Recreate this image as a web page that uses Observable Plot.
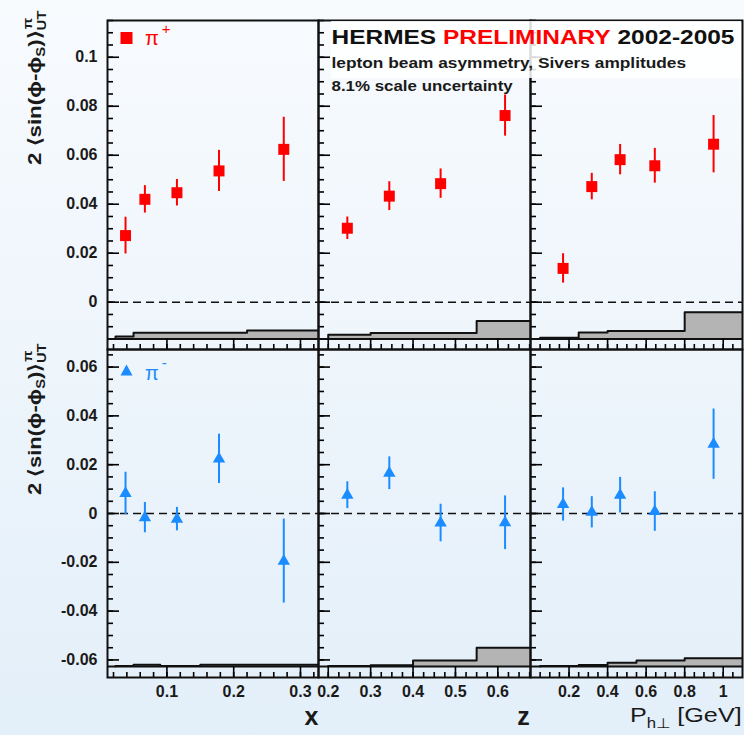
<!DOCTYPE html>
<html><head><meta charset="utf-8">
<script src="https://cdn.jsdelivr.net/npm/d3@7"></script>
<script src="https://cdn.jsdelivr.net/npm/@observablehq/plot@0.6"></script>
<style>
html,body{margin:0;padding:0;}
body{width:744px;height:735px;overflow:hidden;background:linear-gradient(#f8fbfe,#e3eff9);}
#chart{position:relative;width:744px;height:735px;}
#chart svg{position:absolute;}
</style></head><body><div id="chart"></div>
<script>
const FONT = '"Liberation Sans", Arial, Helvetica, sans-serif';

// ---------- DATA ----------
const xCenters  = [0.038, 0.067, 0.115, 0.178, 0.275];
const zCenters  = [0.245, 0.344, 0.465, 0.617];
const phCenters = [0.169, 0.318, 0.465, 0.645, 0.95];

const pipX     = [0.0272, 0.0420, 0.0447, 0.0536, 0.0624];
const pipXErr  = [0.0075, 0.0056, 0.0054, 0.0084, 0.0131];
const pipZ     = [0.0302, 0.0433, 0.0484, 0.0762];
const pipZErr  = [0.0046, 0.0059, 0.0060, 0.0084];
const pipPh    = [0.0138, 0.0472, 0.0582, 0.0557, 0.0645];
const pipPhErr = [0.0060, 0.0054, 0.0062, 0.0071, 0.0117];

const pimX     = [0.0082, -0.0017, -0.0023, 0.0224, -0.0195];
const pimXErr  = [0.0087, 0.0062, 0.0048, 0.0101, 0.0172];
const pimZ     = [0.0075, 0.0165, -0.0039, -0.0038];
const pimZErr  = [0.0055, 0.0067, 0.0077, 0.0110];
const pimPh    = [0.0037, 0.0005, 0.0075, 0.0008, 0.0284];
const pimPhErr = [0.0068, 0.0064, 0.0073, 0.0081, 0.0144];

// systematic-uncertainty bands (bin edges, heights)
const xSysEdgesPip  = [0.023, 0.05, 0.22, 0.4];
const xSysPip       = [0.0010, 0.0025, 0.0035];
const zSysEdgesPip  = [0.2, 0.3, 0.55, 0.7];
const zSysPip       = [0.0017, 0.0024, 0.0073];
const phSysEdgesPip = [0.05, 0.25, 0.4, 0.8, 1.1];
const phSysPip      = [0.0005, 0.0026, 0.0033, 0.0109];

const xSysEdgesPim  = [0.023, 0.05, 0.09, 0.15, 0.4];
const xSysPim       = [0.0002, 0.0007, 0.0002, 0.0007];
const zSysEdgesPim  = [0.2, 0.3, 0.4, 0.55, 0.7];
const zSysPim       = [0.0002, 0.0005, 0.0025, 0.0077];
const phSysEdgesPim = [0.05, 0.25, 0.4, 0.55, 0.8, 1.1];
const phSysPim      = [0.0002, 0.0006, 0.0015, 0.0025, 0.0034];

// axes
const xDomain = [0.011, 0.327], zDomain = [0.177, 0.677], phDomain = [0, 1.1];
const yDomainPip = [-0.0193, 0.115], yDomainPim = [-0.0672, 0.0672];
const sysBasePip = -0.015, sysBasePim = -0.0627;

const xTicks = [0.1, 0.2, 0.3];            const xTickLabels = ["0.1", "0.2", "0.3"];
const zTicks = [0.2, 0.3, 0.4, 0.5, 0.6];  const zTickLabels = ["0.2", "0.3", "0.4", "0.5", "0.6"];
const phTicks = [0.2, 0.4, 0.6, 0.8, 1];   const phTickLabels = ["0.2", "0.4", "0.6", "0.8", "1"];
const yTicksPip = [0, 0.02, 0.04, 0.06, 0.08, 0.1];
const yTickLabelsPip = ["0", "0.02", "0.04", "0.06", "0.08", "0.1"];
const yTicksPim = [-0.06, -0.04, -0.02, 0, 0.02, 0.04, 0.06];
const yTickLabelsPim = ["-0.06", "-0.04", "-0.02", "0", "0.02", "0.04", "0.06"];

const rnd = a => a.map(v => +v.toFixed(4));
const xMinor  = rnd(d3.range(0.02, 0.327, 0.02));
const zMinor  = rnd(d3.range(0.2, 0.677, 0.025));
const phMinor = rnd(d3.range(0.05, 1.1, 0.05));
const yMinorPip = rnd(d3.range(-0.01, 0.1151, 0.005));
const yMinorPim = rnd(d3.range(-0.06, 0.0651, 0.005));

// ---------- LAYOUT ----------
const cols = [
  {idx: 0, L: 107, R: 318, domain: xDomain, ticks: xTicks, labels: xTickLabels, minor: xMinor},
  {idx: 1, L: 318, R: 530, domain: zDomain, ticks: zTicks, labels: zTickLabels, minor: zMinor},
  {idx: 2, L: 530, R: 742, domain: phDomain, ticks: phTicks, labels: phTickLabels, minor: phMinor}
];
const rows = [
  {idx: 0, T: 20, B: 349, domain: yDomainPip, ticks: yTicksPip, labels: yTickLabelsPip, minor: yMinorPip,
   base: sysBasePip, color: "#ff0000", symbol: "square", r: 6.2},
  {idx: 1, T: 349, B: 677, domain: yDomainPim, ticks: yTicksPim, labels: yTickLabelsPim, minor: yMinorPim,
   base: sysBasePim, color: "#1a8cff", symbol: "triangle", r: 4.6}
];
const panelData = [
  [{x: xCenters, y: pipX, e: pipXErr, edges: xSysEdgesPip, sys: xSysPip},
   {x: zCenters, y: pipZ, e: pipZErr, edges: zSysEdgesPip, sys: zSysPip},
   {x: phCenters, y: pipPh, e: pipPhErr, edges: phSysEdgesPip, sys: phSysPip}],
  [{x: xCenters, y: pimX, e: pimXErr, edges: xSysEdgesPim, sys: xSysPim},
   {x: zCenters, y: pimZ, e: pimZErr, edges: zSysEdgesPim, sys: zSysPim},
   {x: phCenters, y: pimPh, e: pimPhErr, edges: phSysEdgesPim, sys: phSysPim}]
];

const chart = document.getElementById("chart");

function buildPanel(row, col, d) {
  const ml = col.idx === 0 ? 80 : 2, mr = 2, mt = 2, mb = row.idx === 1 ? 40 : 2;
  const W = col.R - col.L, H = row.B - row.T;
  const pts = d.x.map((x, i) => ({x, y: d.y[i], lo: d.y[i] - d.e[i], hi: d.y[i] + d.e[i]}));
  const rects = d.sys.map((h, i) => ({x1: d.edges[i], x2: d.edges[i + 1], y1: row.base, y2: row.base + h}));
  const outline = [{x: d.edges[0], y: row.base}]
    .concat(d.sys.map((h, i) => ({x: d.edges[i], y: row.base + h})))
    .concat([{x: d.edges[d.edges.length - 1], y: row.base + d.sys[d.sys.length - 1]}]);
  const tk = {stroke: "#000", strokeWidth: 1.6};
  const marks = [
    Plot.rect(rects, {x1: "x1", x2: "x2", y1: "y1", y2: "y2", fill: "#b4b4b4", clip: true}),
    Plot.line(outline, {x: "x", y: "y", curve: "step-after", stroke: "#111", strokeWidth: 2, clip: true}),
    Plot.ruleY([0], {stroke: "#111", strokeWidth: 1.6, strokeDasharray: "8,5"}),
    Plot.ruleY([row.base], {stroke: "#111", strokeWidth: 2}),
    Plot.ruleX(pts, {x: "x", y1: "lo", y2: "hi", stroke: row.color, strokeWidth: 2}),
    Plot.dot(pts, {x: "x", y: "y", symbol: row.symbol, r: row.r, fill: row.color, stroke: "none"}),
    // inward y ticks on the left edge
    Plot.tickY(row.minor, {y: v => v, insetRight: W - 6, ...tk}),
    Plot.tickY(row.ticks, {y: v => v, insetRight: W - 12, ...tk}),
    // x ticks in the strip below each panel (drawn up from the bottom edge)
    Plot.tickX(col.minor, {x: v => v, insetTop: H - 5, ...tk}),
    Plot.tickX(col.ticks, {x: v => v, insetTop: H - 10.5, ...tk}),
    Plot.frame({stroke: "#111", strokeWidth: 2})
  ];
  if (col.idx === 0) marks.push(Plot.axisY(row.ticks, {
    anchor: "left", tickSize: 0, tickPadding: 10, label: null,
    tickFormat: v => row.labels[row.ticks.indexOf(v)],
    fontSize: 16, fontWeight: "bold", fill: "#1a1a1a", fontFamily: FONT
  }));
  else marks.push(Plot.axisY([], {tickSize: 0, label: null}));
  if (row.idx === 1) marks.push(Plot.axisX(col.ticks, {
    anchor: "bottom", tickSize: 0, tickPadding: 8, label: null,
    tickFormat: v => col.labels[col.ticks.indexOf(v)],
    fontSize: 16, fontWeight: "bold", fill: "#1a1a1a", fontFamily: FONT
  }));
  else marks.push(Plot.axisX([], {tickSize: 0, label: null}));
  const svg = Plot.plot({
    width: W + ml + mr, height: H + mt + mb,
    marginLeft: ml, marginRight: mr, marginTop: mt, marginBottom: mb,
    x: {domain: col.domain}, y: {domain: row.domain},
    marks
  });
  svg.style.position = "absolute";
  svg.style.left = (col.L - ml) + "px";
  svg.style.top = (row.T - mt) + "px";
  svg.style.background = "transparent";
  svg.style.overflow = "visible";
  svg.style.maxWidth = "none";
  svg.style.fontFamily = FONT;
  chart.appendChild(svg);
}
rows.forEach(row => cols.forEach(col => buildPanel(row, col, panelData[row.idx][col.idx])));

// ---------- ANNOTATIONS ----------
const ov = d3.select(chart).append("svg")
  .attr("width", 744).attr("height", 735)
  .style("left", "0px").style("top", "0px")
  .attr("font-family", FONT);

ov.append("rect").attr("x", 331).attr("y", 21).attr("width", 410).attr("height", 57)
  .attr("fill", "#ffffff").attr("fill-opacity", 0.85);

function fit(g, x, y, width, rotate) {
  const w = g.node().getBBox().width;
  g.attr("transform", `translate(${x},${y})` + (rotate ? " rotate(-90)" : "") + ` scale(${width / w},1)`);
}

// header
let g = ov.append("g");
let t = g.append("text").attr("font-size", 21).attr("font-weight", "bold");
t.append("tspan").attr("fill", "#111").text("HERMES ");
t.append("tspan").attr("fill", "#ff0000").text("PRELIMINARY");
t.append("tspan").attr("fill", "#111").text(" 2002-2005");
fit(g, 331.5, 43.5, 403);

g = ov.append("g");
g.append("text").attr("font-size", 15).attr("font-weight", "bold").attr("fill", "#1a1a1a")
  .text("lepton beam asymmetry, Sivers amplitudes");
fit(g, 331.5, 67.5, 355);

g = ov.append("g");
g.append("text").attr("font-size", 15).attr("font-weight", "bold").attr("fill", "#1a1a1a")
  .text("8.1% scale uncertainty");
fit(g, 331.5, 91, 182);

// legends
ov.append("rect").attr("x", 120.5).attr("y", 32).attr("width", 12).attr("height", 12).attr("fill", "#ff0000");
t = ov.append("text").attr("x", 145).attr("y", 45).attr("font-size", 20).attr("fill", "#ff0000");
t.append("tspan").text("π");
t.append("tspan").attr("font-size", 15).attr("dx", 3).attr("dy", -11).text("+");

ov.append("path").attr("d", "M126.5,364.5L120.5,375.5L132.5,375.5Z").attr("fill", "#1a8cff");
t = ov.append("text").attr("x", 145).attr("y", 380).attr("font-size", 20).attr("fill", "#1a8cff");
t.append("tspan").text("π");
t.append("tspan").attr("font-size", 15).attr("dx", 3).attr("dy", -12).text("-");

// y-axis titles
function yTitle(yStart, len) {
  const gg = ov.append("g");
  const tt = gg.append("text").attr("font-size", 18).attr("font-weight", "bold").attr("fill", "#1a1a1a");
  tt.append("tspan").text("2 ⟨sin(ϕ-ϕ");
  tt.append("tspan").attr("font-size", 12).attr("dy", 4).text("S");
  tt.append("tspan").attr("dy", -4).text(")⟩");
  tt.append("tspan").attr("font-size", 12).attr("dy", 5).text("UT");
  tt.append("tspan").attr("font-size", 12).attr("dx", -15).attr("dy", -14).text("π");
  fit(gg, 41, yStart, len, true);
}
yTitle(165, 155);
yTitle(495, 152);

// x-axis titles
ov.append("text").attr("x", 311.5).attr("y", 725).attr("text-anchor", "middle")
  .attr("font-size", 25).attr("font-weight", "bold").attr("fill", "#1a1a1a").text("x");
ov.append("text").attr("x", 523.5).attr("y", 725).attr("text-anchor", "middle")
  .attr("font-size", 25).attr("font-weight", "bold").attr("fill", "#1a1a1a").text("z");
g = ov.append("g");
t = g.append("text").attr("font-size", 21).attr("fill", "#1a1a1a");
t.append("tspan").text("P");
t.append("tspan").attr("font-size", 14).attr("dy", 6).text("h⊥");
t.append("tspan").attr("dy", -6).text(" [GeV]");
fit(g, 630, 722, 112);
</script></body></html>
